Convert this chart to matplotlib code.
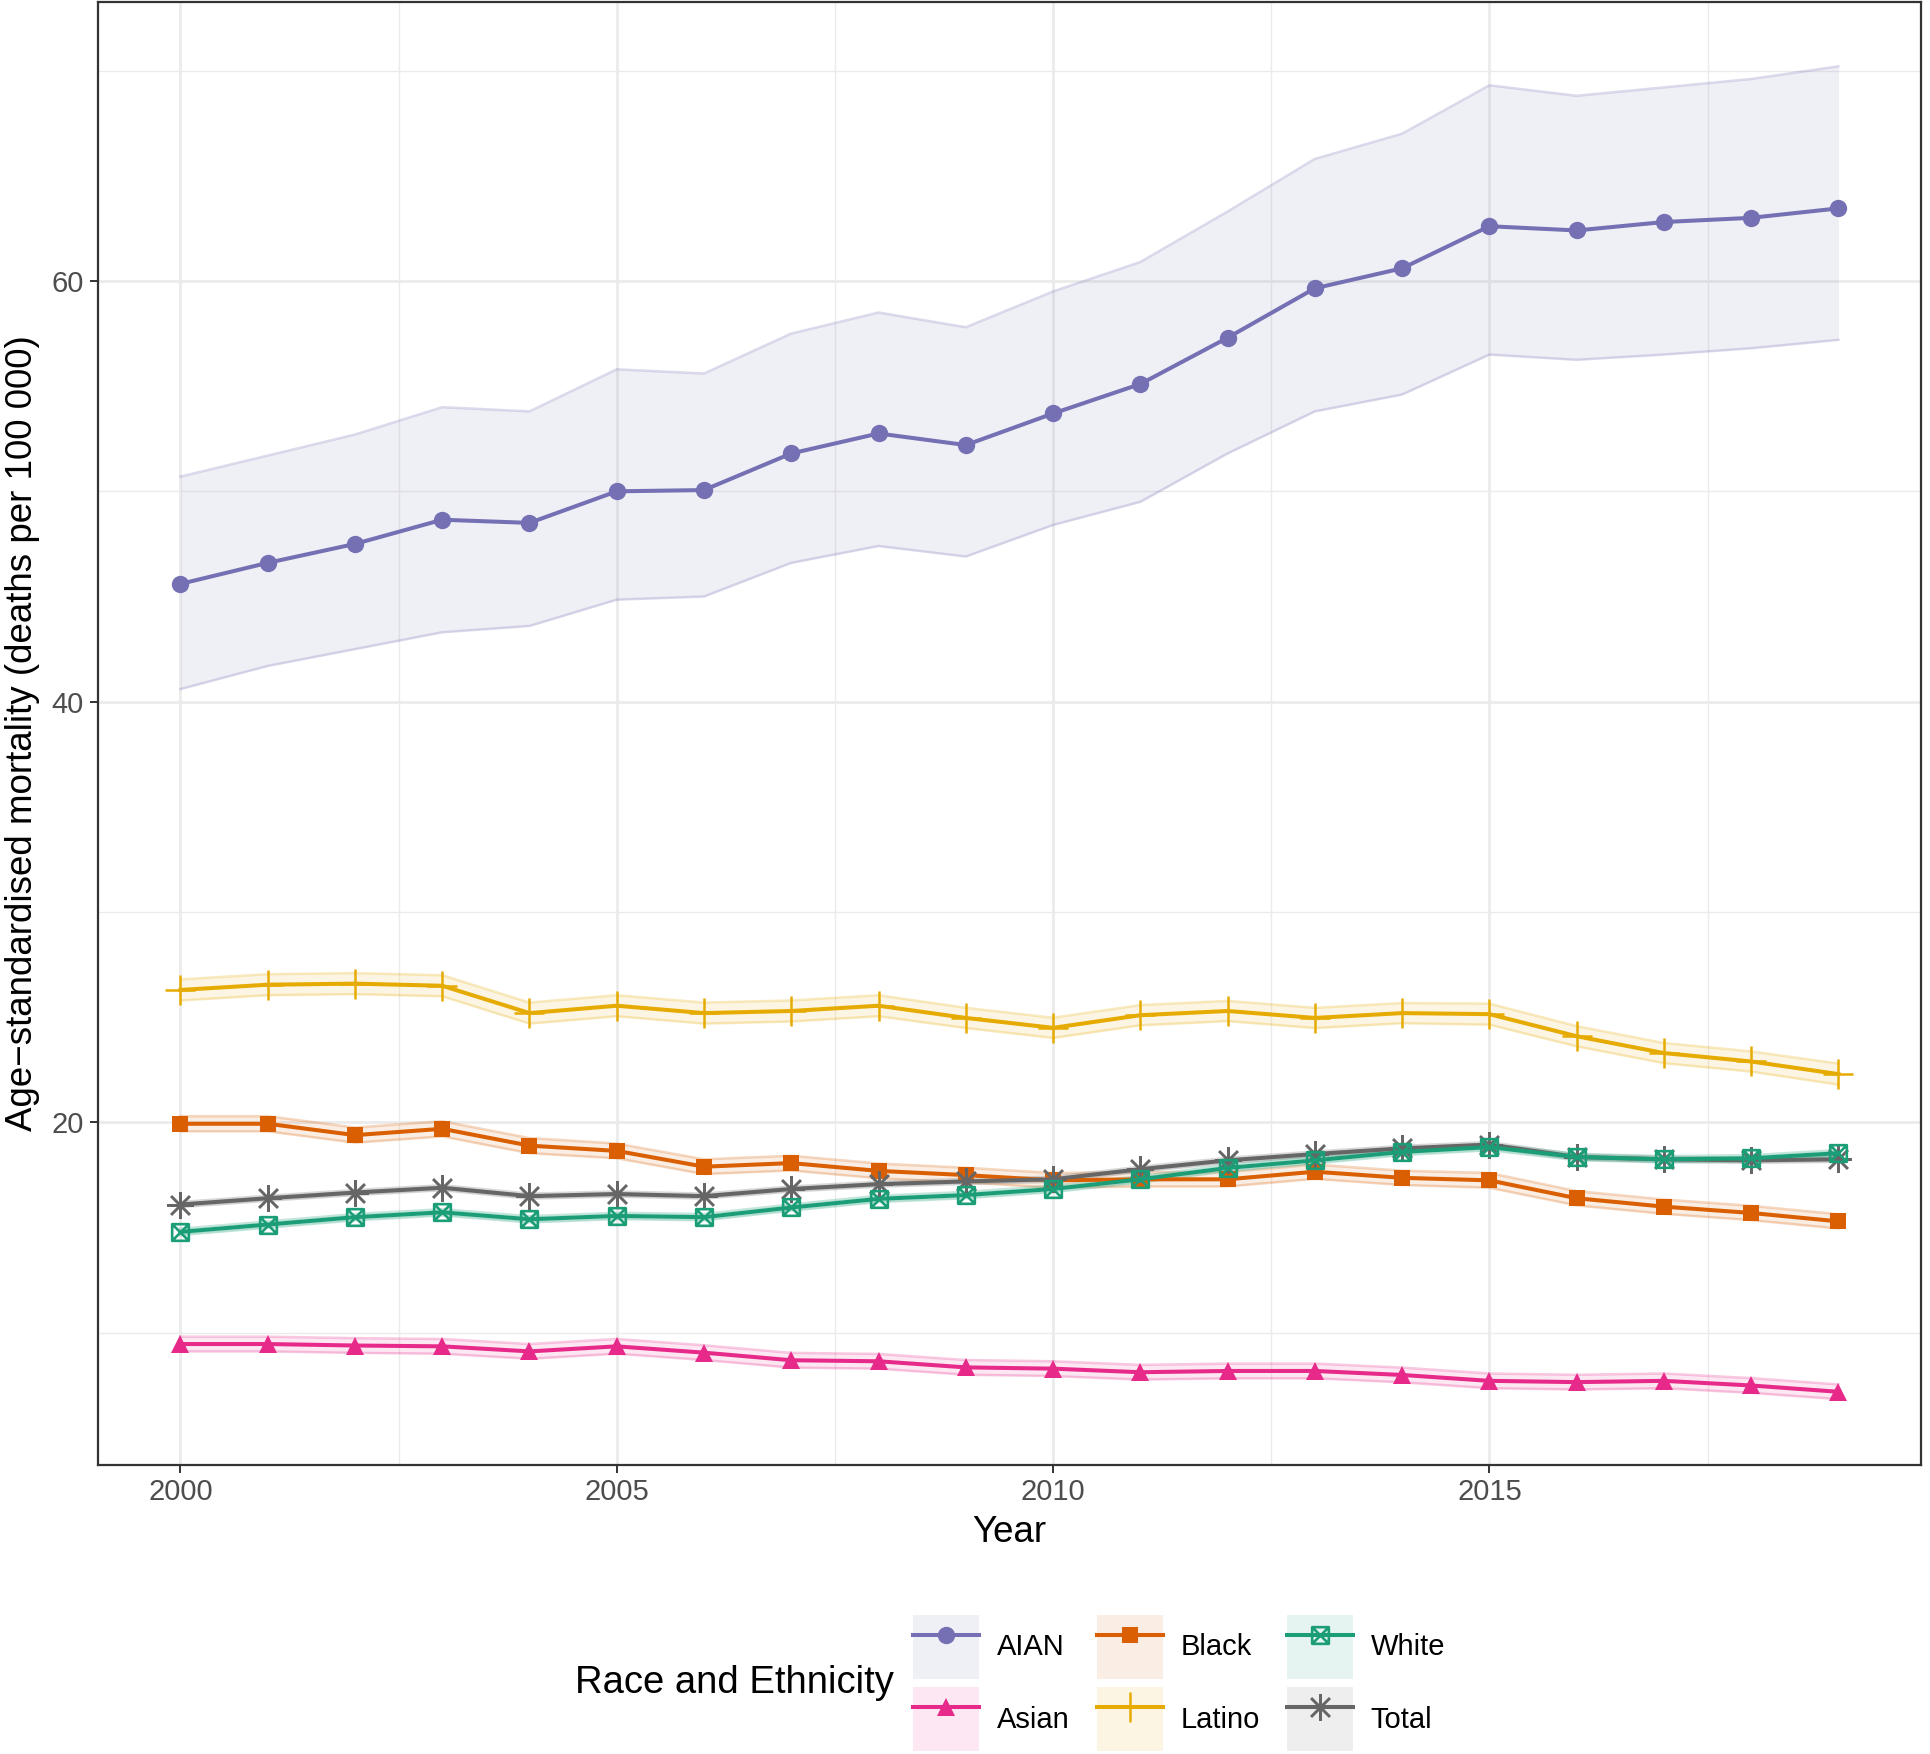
import matplotlib
matplotlib.use("Agg")
import matplotlib.pyplot as plt
from matplotlib.path import Path
from matplotlib.patches import Patch
from matplotlib.lines import Line2D
from matplotlib.ticker import MultipleLocator
import numpy as np

plt.rcParams['font.family'] = ['Liberation Sans', 'DejaVu Sans']

years = list(range(2000, 2020))

aian = [45.6, 46.6, 47.5, 48.65, 48.5, 50.0, 50.06, 51.8, 52.75, 52.2,
        53.7, 55.1, 57.3, 59.65, 60.6, 62.6, 62.4, 62.8, 63.0, 63.45]
aian_hi = [50.7, 51.7, 52.7, 54.0, 53.8, 55.8, 55.6, 57.5, 58.5, 57.8,
           59.5, 60.9, 63.3, 65.8, 67.0, 69.3, 68.8, 69.2, 69.6, 70.2]
aian_lo = [40.6, 41.7, 42.5, 43.3, 43.6, 44.85, 45.0, 46.6, 47.4, 46.9,
           48.4, 49.5, 51.8, 53.8, 54.6, 56.5, 56.25, 56.5, 56.8, 57.2]

latino = [26.3, 26.55, 26.6, 26.5, 25.2, 25.55, 25.2, 25.3, 25.55, 24.97,
          24.5, 25.1, 25.3, 24.97, 25.2, 25.15, 24.1, 23.3, 22.9, 22.3]
latino_hi = [26.8, 27.05, 27.1, 27.0, 25.7, 26.05, 25.7, 25.8, 26.05, 25.45,
             24.98, 25.58, 25.78, 25.45, 25.68, 25.65, 24.58, 23.78, 23.38, 22.8]
latino_lo = [25.8, 26.05, 26.1, 26.0, 24.7, 25.05, 24.7, 24.8, 25.05, 24.49,
             24.02, 24.62, 24.82, 24.49, 24.72, 24.65, 23.62, 22.82, 22.42, 21.8]

black = [19.94, 19.94, 19.4, 19.7, 18.9, 18.65, 17.9, 18.07, 17.7, 17.5,
         17.25, 17.3, 17.3, 17.66, 17.37, 17.25, 16.4, 16.0, 15.7, 15.3]
black_hi = [20.3, 20.3, 19.76, 20.06, 19.26, 19.0, 18.25, 18.42, 18.05, 17.85,
            17.6, 17.64, 17.64, 18.0, 17.71, 17.6, 16.74, 16.34, 16.04, 15.64]
black_lo = [19.58, 19.58, 19.04, 19.34, 18.54, 18.3, 17.55, 17.72, 17.35, 17.15,
            16.9, 16.96, 16.96, 17.32, 17.03, 16.9, 16.06, 15.66, 15.36, 14.96]

white = [14.8, 15.15, 15.5, 15.73, 15.4, 15.56, 15.5, 15.96, 16.37, 16.55,
         16.84, 17.3, 17.84, 18.2, 18.6, 18.83, 18.36, 18.25, 18.3, 18.54]
white_hi = [14.95, 15.3, 15.65, 15.88, 15.55, 15.71, 15.65, 16.11, 16.52, 16.7,
            16.99, 17.45, 17.99, 18.35, 18.75, 18.98, 18.51, 18.4, 18.45, 18.69]
white_lo = [14.65, 15.0, 15.35, 15.58, 15.25, 15.41, 15.35, 15.81, 16.22, 16.4,
            16.69, 17.15, 17.69, 18.05, 18.45, 18.68, 18.21, 18.1, 18.15, 18.39]

total = [16.1, 16.4, 16.67, 16.9, 16.5, 16.6, 16.5, 16.84, 17.07, 17.2,
         17.3, 17.78, 18.2, 18.5, 18.77, 18.95, 18.36, 18.25, 18.2, 18.25]
total_hi = [16.22, 16.52, 16.79, 17.02, 16.62, 16.72, 16.62, 16.96, 17.19, 17.32,
            17.42, 17.9, 18.32, 18.62, 18.89, 19.07, 18.48, 18.37, 18.32, 18.37]
total_lo = [15.98, 16.28, 16.55, 16.78, 16.38, 16.48, 16.38, 16.72, 16.95, 17.08,
            17.18, 17.66, 18.08, 18.38, 18.65, 18.83, 18.24, 18.13, 18.08, 18.13]

asian = [9.47, 9.47, 9.4, 9.36, 9.12, 9.36, 9.06, 8.7, 8.65, 8.36,
         8.3, 8.13, 8.19, 8.19, 8.0, 7.72, 7.66, 7.72, 7.5, 7.2]
asian_hi = [9.82, 9.82, 9.75, 9.71, 9.47, 9.71, 9.41, 9.05, 9.0, 8.71,
            8.65, 8.48, 8.54, 8.54, 8.35, 8.07, 8.01, 8.07, 7.85, 7.55]
asian_lo = [9.12, 9.12, 9.05, 9.01, 8.77, 9.01, 8.71, 8.35, 8.3, 8.01,
            7.95, 7.78, 7.84, 7.84, 7.65, 7.37, 7.31, 7.37, 7.15, 6.85]

groups = ["AIAN", "Asian", "Black", "Latino", "White", "Total"]
colors = {"AIAN": "#7570B3", "Asian": "#E7298A", "Black": "#D95F02",
          "Latino": "#E6AB02", "White": "#1B9E77", "Total": "#666666"}

# square with cross marker (ggplot shape 7)
sq_cross = Path([(-1, -1), (1, -1), (1, 1), (-1, 1), (-1, -1), (1, 1), (-1, 1), (1, -1)],
                [Path.MOVETO, Path.LINETO, Path.LINETO, Path.LINETO, Path.LINETO,
                 Path.LINETO, Path.MOVETO, Path.LINETO])

styles = {
    "AIAN": dict(marker="o", ms=12.5, mfc=colors["AIAN"], mew=0),
    "Asian": dict(marker="^", ms=13.5, mfc=colors["Asian"], mew=0),
    "Black": dict(marker="s", ms=12, mfc=colors["Black"], mew=0),
    "Latino": dict(marker="+", ms=22, mew=1.8),
    "White": dict(marker=sq_cross, ms=12, mfc="none", mew=1.9),
    "Total": dict(marker=(8, 2, 0), ms=19, mew=1.8),
}

data = {
    "AIAN": (aian, aian_lo, aian_hi),
    "Asian": (asian, asian_lo, asian_hi),
    "Black": (black, black_lo, black_hi),
    "Latino": (latino, latino_lo, latino_hi),
    "White": (white, white_lo, white_hi),
    "Total": (total, total_lo, total_hi),
}

LW = 2.9

fig = plt.figure(figsize=(19.31, 17.54), dpi=100)
ax = fig.add_axes([0.0505, 0.165, 0.9445, 0.834])

draw_order = ["AIAN", "Latino", "Black", "Asian", "Total", "White"]
for g in draw_order:
    m, lo, hi = data[g]
    c = colors[g]
    ax.fill_between(years, lo, hi, color=c, alpha=0.11, lw=0, zorder=2)
    ax.plot(years, lo, color=c, alpha=0.25, lw=1.8, zorder=2)
    ax.plot(years, hi, color=c, alpha=0.25, lw=1.8, zorder=2)
for g in draw_order:
    m, lo, hi = data[g]
    c = colors[g]
    ax.plot(years, m, color=c, lw=LW, mec=c, zorder=3, **styles[g])

ax.set_xlim(1999.05, 2019.95)
ax.set_ylim(3.74, 73.27)
ax.xaxis.set_major_locator(MultipleLocator(5))
ax.xaxis.set_minor_locator(MultipleLocator(2.5))
ax.yaxis.set_major_locator(MultipleLocator(20))
ax.yaxis.set_minor_locator(MultipleLocator(10))
ax.grid(which="major", color="#EBEBEB", lw=2.0, zorder=0)
ax.grid(which="minor", color="#EBEBEB", lw=1.0, zorder=0)
ax.set_axisbelow(True)
for s in ax.spines.values():
    s.set_color("#333333")
    s.set_linewidth(1.6)
ax.tick_params(which="major", length=6, width=1.4, color="#333333",
               labelsize=21, labelcolor="#4D4D4D", pad=4)
ax.tick_params(which="minor", length=0)

ax.set_xlabel("Year", fontsize=26.5, labelpad=6)
ax.set_ylabel("Age\u2212standardised mortality (deaths per 100\u00a0000)", fontsize=26.5, labelpad=8)

handles = []
for g in groups:
    c = colors[g]
    p = Patch(facecolor=c, alpha=0.11, edgecolor="none")
    ln = Line2D([], [], color=c, lw=LW, mec=c, **styles[g])
    handles.append((p, ln))

leg = fig.legend(handles, groups, ncol=3, loc="center left",
                 bbox_to_anchor=(0.4655, 0.0405), frameon=False,
                 fontsize=21, handlelength=2.25, handleheight=3.0,
                 handletextpad=0.6, columnspacing=0.95, labelspacing=0.28,
                 borderpad=0)
fig.text(0.298, 0.0405, "Race and Ethnicity", fontsize=27.5, ha="left", va="center",
         transform=fig.transFigure)

fig.savefig("out.png", dpi=100)
